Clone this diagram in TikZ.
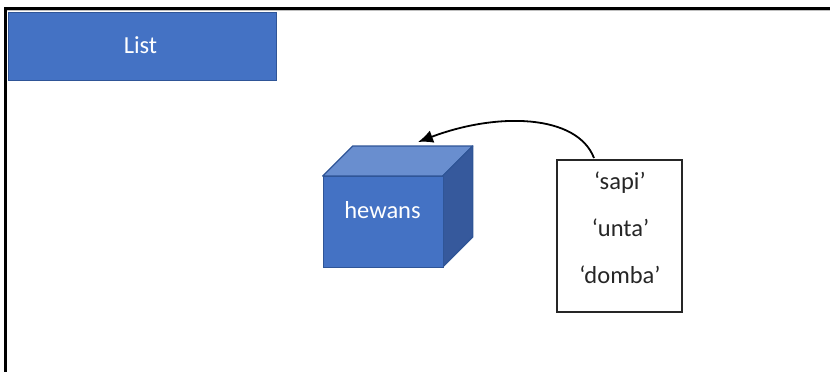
\documentclass[tikz,border=0pt]{standalone}
\usepackage{fontspec}
\setmainfont{Carlito}
\usetikzlibrary{arrows.meta}
\definecolor{fillblue}{HTML}{4472C4}
\definecolor{edgeblue}{HTML}{2F5597}
\definecolor{topblue}{HTML}{698ECF}
\definecolor{sideblue}{HTML}{36599C}
\tikzset{
  x=1pt,y=-1pt,
  bluebox/.style={draw=edgeblue,line width=1.3pt,fill=fillblue,inner sep=0pt,anchor=north west},
  boxtext/.style={text=white,font=\fontsize{24.5}{28}\selectfont,inner sep=0pt},
  facet/.style={draw=edgeblue,line width=1.3pt,line join=round},
  listbox/.style={draw=black!85,line width=2.2pt,fill=white,inner sep=0pt,anchor=north west,minimum width=125pt,minimum height=152pt},
  item/.style={text=black!85,font=\fontsize{24.5}{28}\selectfont,inner sep=0pt},
  connector/.style={draw=black,line width=1.8pt,-{Latex[length=15pt,width=13pt]}},
}
\begin{document}
\begin{tikzpicture}
\useasboundingbox (0,0) rectangle (830,372);
\fill[white] (0,0) rectangle (830,372);
% frame
\draw[black!25,line width=1pt] (7,10.5) -- (830,10.5);
\draw[black,line width=2.2pt] (5.5,372) -- (5.5,8.5) -- (830,8.5);
% title
\node[bluebox,minimum width=268pt,minimum height=68pt] (title) at (7.7,12) {};
\node[boxtext] (titlelabel) at (140.5,45.5) {List};
% cube
\draw[facet,fill=topblue] (322.7,176) -- (352.7,146) -- (472.7,146) -- (442.7,176) -- cycle;
\draw[facet,fill=sideblue] (442.7,176) -- (472.7,146) -- (472.7,237) -- (442.7,267) -- cycle;
\node[bluebox,minimum width=120pt,minimum height=91pt] (cube) at (322.7,176) {};
\node[boxtext] (cubelabel) at (382.5,210) {hewans};
% list box
\node[listbox] (values) at (555.5,158.5) {};
\node[item] (sapi) at (620,182.5) {‘sapi’};
\node[item] (unta) at (620.5,228) {‘unta’};
\node[item] (domba) at (620,275) {‘domba’};
% connector
\coordinate (tip) at (418,142);
\coordinate (start) at (594,158);
\draw[connector] (start) .. controls (577,114) and (497,112) .. (tip);
\end{tikzpicture}
\end{document}
